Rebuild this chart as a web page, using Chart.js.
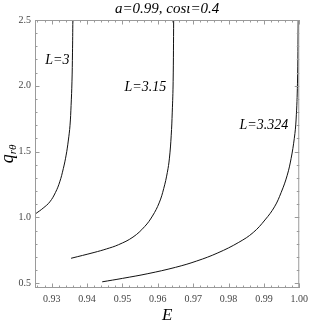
<!DOCTYPE html>
<html>
<head>
<meta charset="utf-8">
<script src="https://cdn.jsdelivr.net/npm/chart.js@4.4.1/dist/chart.umd.min.js"></script>
<style>
  html, body { margin: 0; padding: 0; background: #fff; }
  #wrap { width: 313px; height: 325px; }
</style>
</head>
<body>
<div id="wrap"><canvas id="qPlot"></canvas></div>
<script>
// values
const titleText = 'a=0.99, cos\u03B9=0.4';

const curveNames = ['L=3', 'L=3.15', 'L=3.324'];

const eL300 = [0.9256, 0.9276, 0.9295, 0.9311, 0.9323, 0.9333, 0.9341, 0.9347, 0.9352, 0.9355, 0.93575, 0.9359, 0.9360];
const qL300 = [1.03, 1.07, 1.118, 1.19, 1.27, 1.37, 1.473, 1.58, 1.70, 1.85, 2.03, 2.25, 2.5];

const eL315 = [0.9355, 0.9420, 0.9455, 0.9489, 0.9530, 0.9563, 0.9585, 0.9604, 0.9617, 0.9627, 0.9633, 0.9638, 0.9641, 0.96435, 0.9645];
const qL315 = [0.689, 0.733, 0.760, 0.792, 0.850, 0.930, 1.010, 1.110, 1.220, 1.340, 1.450, 1.620, 1.800, 2.031, 2.5];

const eL3324 = [0.9443, 0.9500, 0.9572, 0.9650, 0.9710, 0.9770, 0.9829, 0.9870, 0.9903, 0.9930, 0.9949, 0.9966, 0.9977, 0.9986, 0.9991, 0.9995, 0.9997];
const qL3324 = [0.510, 0.536, 0.572, 0.620, 0.668, 0.730, 0.810, 0.885, 0.980, 1.080, 1.190, 1.320, 1.448, 1.600, 1.740, 2.020, 2.5];

const xTicks = [0.93, 0.94, 0.95, 0.96, 0.97, 0.98, 0.99, 1.00];
const yTicks = [0.5, 1.0, 1.5, 2.0, 2.5];

// where the curve names sit, in data units
const nameE = [0.9316, 0.9565, 0.9900];
const nameQ = [2.19, 1.99, 1.70];

function toPoints(xs, ys) {
    let pts = [];
    for (let i = 0; i < xs.length; i++) {
        pts.push({x: xs[i], y: ys[i]});
    }
    return pts;
}

const serif = '"Liberation Serif", "DejaVu Serif", serif';

// frame with inward ticks, all four sides (Mathematica look)
const framePlugin = {
    id: 'frameTicks',
    afterDraw(chart) {
        const ctx = chart.ctx;
        const a = chart.chartArea;
        const xs = chart.scales.x;
        const ys = chart.scales.y;
        ctx.save();
        ctx.strokeStyle = '#9a9a9a';
        ctx.lineWidth = 1;
        ctx.strokeRect(a.left + 0.5, a.top + 0.5, a.right - a.left - 1, a.bottom - a.top - 1);

        ctx.beginPath();
        // x ticks, minor every 0.002
        for (let k = 463; k <= 500; k++) {
            const v = k / 500;
            if (v < xs.min || v > xs.max) continue;
            const px = Math.round(xs.getPixelForValue(v)) + 0.5;
            const len = (k % 5 == 0) ? 4.5 : 2.5;
            ctx.moveTo(px, a.bottom); ctx.lineTo(px, a.bottom - len);
            ctx.moveTo(px, a.top); ctx.lineTo(px, a.top + len);
        }
        // y ticks, minor every 0.1
        for (let k = 5; k <= 25; k++) {
            const v = k / 10;
            const py = Math.round(ys.getPixelForValue(v)) + 0.5;
            const len = (k % 5 == 0) ? 4.5 : 2.5;
            ctx.moveTo(a.left, py); ctx.lineTo(a.left + len, py);
            ctx.moveTo(a.right, py); ctx.lineTo(a.right - len, py);
        }
        ctx.stroke();

        // title
        ctx.fillStyle = '#000';
        ctx.font = 'italic 15px ' + serif;
        ctx.textAlign = 'center';
        ctx.textBaseline = 'middle';
        ctx.fillText(titleText, (a.left + a.right) / 2, 9);

        // x axis title
        ctx.font = 'italic 17px ' + serif;
        ctx.fillText('E', (a.left + a.right) / 2, 316);

        // y axis title q_{r theta}
        ctx.save();
        ctx.translate(9, (a.top + a.bottom) / 2);
        ctx.rotate(-Math.PI / 2);
        ctx.textAlign = 'left';
        ctx.textBaseline = 'alphabetic';
        ctx.font = 'italic 18px ' + serif;
        const qW = ctx.measureText('q').width;
        ctx.font = 'italic 11px ' + serif;
        const sW = ctx.measureText('r\u03B8').width;
        const x0 = -(qW + sW) / 2;
        ctx.font = 'italic 18px ' + serif;
        ctx.fillText('q', x0, 4);
        ctx.font = 'italic 11px ' + serif;
        ctx.fillText('r\u03B8', x0 + qW, 7);
        ctx.restore();

        // curve names
        ctx.font = 'italic 14px ' + serif;
        ctx.textAlign = 'center';
        ctx.textBaseline = 'middle';
        for (let i = 0; i < curveNames.length; i++) {
            ctx.fillText(curveNames[i], xs.getPixelForValue(nameE[i]), ys.getPixelForValue(nameQ[i]));
        }
        ctx.restore();
    }
};

function lineSet(name, xs, ys) {
    return {
        label: name,
        data: toPoints(xs, ys),
        showLine: true,
        borderColor: '#111',
        borderWidth: 1,
        pointRadius: 0,
        tension: 0.4,
        fill: false
    };
}

const ctx = document.getElementById('qPlot').getContext('2d');

const qPlot = new Chart(ctx, {
    type: 'scatter',
    data: {
        datasets: [
            lineSet(curveNames[0], eL300, qL300),
            lineSet(curveNames[1], eL315, qL315),
            lineSet(curveNames[2], eL3324, qL3324)
        ]
    },
    options: {
        responsive: true,
        maintainAspectRatio: false,
        animation: false,
        layout: { padding: { left: 0, right: 8, top: 20, bottom: 0 } },
        plugins: {
            legend: { display: false },
            tooltip: { enabled: false },
            title: { display: false }
        },
        scales: {
            x: {
                type: 'linear',
                min: 0.9253,
                max: 1.0,
                border: { display: false },
                grid: { display: false, drawTicks: false },
                afterBuildTicks: (scale) => { scale.ticks = xTicks.map(v => ({value: v})); },
                afterFit: (scale) => { scale.height = 37; },
                ticks: {
                    padding: 5,
                    color: '#444',
                    font: { family: serif, size: 10 },
                    maxRotation: 0,
                    callback: (v) => Number(v).toFixed(2)
                }
            },
            y: {
                type: 'linear',
                min: 0.463,
                max: 2.5,
                border: { display: false },
                grid: { display: false, drawTicks: false },
                afterBuildTicks: (scale) => { scale.ticks = yTicks.map(v => ({value: v})); },
                afterFit: (scale) => { scale.width = 35; },
                ticks: {
                    padding: 4,
                    color: '#444',
                    font: { family: serif, size: 10 },
                    callback: (v) => Number(v).toFixed(1)
                }
            }
        }
    },
    plugins: [framePlugin]
});
</script>
</body>
</html>
